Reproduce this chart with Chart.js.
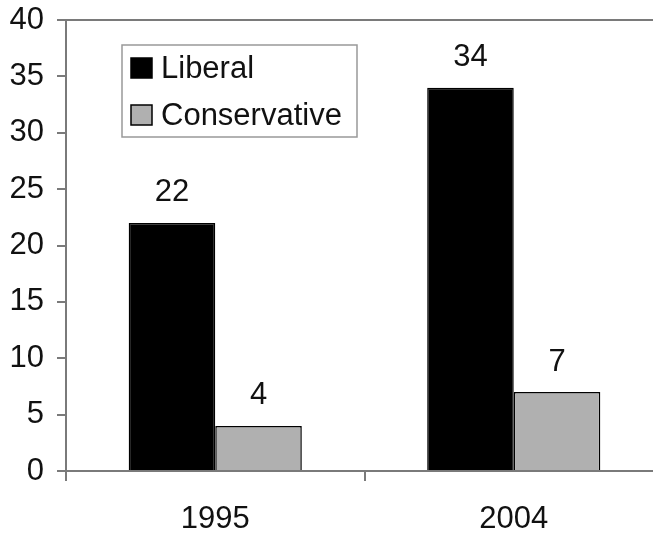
<!DOCTYPE html>
<html>
<head>
<meta charset="utf-8">
<script src="https://cdn.jsdelivr.net/npm/chart.js@4.4.0/dist/chart.umd.min.js"></script>
<style>
  html, body { margin: 0; padding: 0; background: #fff; overflow: hidden; }
  /* the plot runs past the right edge in the original, so the canvas is cropped */
  #wrap { width: 653px; height: 533px; overflow: hidden; }
</style>
</head>
<body>
<div id="wrap"><canvas id="chart" width="663" height="533"></canvas></div>
<script>
const years = ['1995', '2004'];
const liberal = [22, 34];
const conservative = [4, 7];
const yTicks = [0, 5, 10, 15, 20, 25, 30, 35, 40];

const FONT = 'Liberation Sans, Arial, sans-serif';
const AXIS_GREY = '#7a7a7a';

// top border line across the plot
const topLine = {
    id: 'topLine',
    afterDraw(chart) {
        const { ctx, chartArea } = chart;
        ctx.save();
        ctx.strokeStyle = AXIS_GREY;
        ctx.lineWidth = 2;
        ctx.beginPath();
        ctx.moveTo(chartArea.left - 9, chartArea.top);
        ctx.lineTo(chartArea.right, chartArea.top);
        ctx.stroke();
        ctx.restore();
    }
};

// value labels above the bars
const valueLabels = {
    id: 'valueLabels',
    afterDatasetsDraw(chart) {
        const ctx = chart.ctx;
        ctx.save();
        ctx.font = '31px ' + FONT;
        ctx.fillStyle = '#111';
        ctx.textAlign = 'center';
        ctx.textBaseline = 'middle';
        chart.data.datasets.forEach((ds, i) => {
            chart.getDatasetMeta(i).data.forEach((bar, j) => {
                ctx.fillText(String(ds.data[j]), bar.x, bar.y - 30);
            });
        });
        ctx.restore();
    }
};

// boxed legend inside the plot
const boxLegend = {
    id: 'boxLegend',
    afterDraw(chart) {
        const ctx = chart.ctx;
        const x = 122, y = 45, w = 235, h = 92;
        ctx.save();
        ctx.strokeStyle = '#999';
        ctx.lineWidth = 1.5;
        ctx.fillStyle = '#fff';
        ctx.fillRect(x, y, w, h);
        ctx.strokeRect(x, y, w, h);
        ctx.font = '31px ' + FONT;
        ctx.textBaseline = 'middle';
        chart.data.datasets.forEach((ds, i) => {
            const cy = 68 + i * 47;
            ctx.fillStyle = ds.backgroundColor;
            ctx.fillRect(131, cy - 10, 21, 20);
            ctx.strokeStyle = '#000';
            ctx.lineWidth = 1.5;
            ctx.strokeRect(131, cy - 10, 21, 20);
            ctx.fillStyle = '#111';
            ctx.fillText(ds.label, 161, cy + 1);
        });
        ctx.restore();
    }
};

new Chart(document.getElementById('chart'), {
    type: 'bar',
    data: {
        labels: years,
        datasets: [
            {
                label: 'Liberal',
                data: liberal,
                backgroundColor: '#000000',
                borderColor: '#000000',
                borderWidth: 1.5,
                categoryPercentage: 0.58,
                barPercentage: 1
            },
            {
                label: 'Conservative',
                data: conservative,
                backgroundColor: '#b0b0b0',
                borderColor: '#000000',
                borderWidth: 1.5,
                categoryPercentage: 0.58,
                barPercentage: 1
            }
        ]
    },
    options: {
        responsive: false,
        animation: false,
        layout: { padding: { top: 20, right: 0, left: 0, bottom: 0 } },
        plugins: {
            legend: { display: false },
            tooltip: { enabled: false }
        },
        scales: {
            x: {
                afterFit(axis) {
                    axis.height = 62;
                    axis.paddingLeft = 0;
                    axis.paddingRight = 0;
                },
                grid: {
                    drawOnChartArea: false,
                    offset: true,
                    color: AXIS_GREY,
                    lineWidth: 2,
                    tickLength: 10
                },
                border: { color: AXIS_GREY, width: 2 },
                ticks: {
                    color: '#111',
                    font: { family: FONT, size: 31 },
                    padding: 20
                }
            },
            y: {
                min: 0,
                max: 40,
                afterFit(axis) {
                    axis.width = 66;
                    axis.paddingTop = 0;
                    axis.paddingBottom = 0;
                },
                afterBuildTicks(axis) { axis.ticks = yTicks.map(v => ({ value: v })); },
                grid: {
                    drawOnChartArea: false,
                    color: AXIS_GREY,
                    lineWidth: 2,
                    tickLength: 9
                },
                border: { color: AXIS_GREY, width: 2 },
                ticks: {
                    color: '#111',
                    font: { family: FONT, size: 31 },
                    padding: 13
                }
            }
        }
    },
    plugins: [topLine, valueLabels, boxLegend]
});
</script>
</body>
</html>
